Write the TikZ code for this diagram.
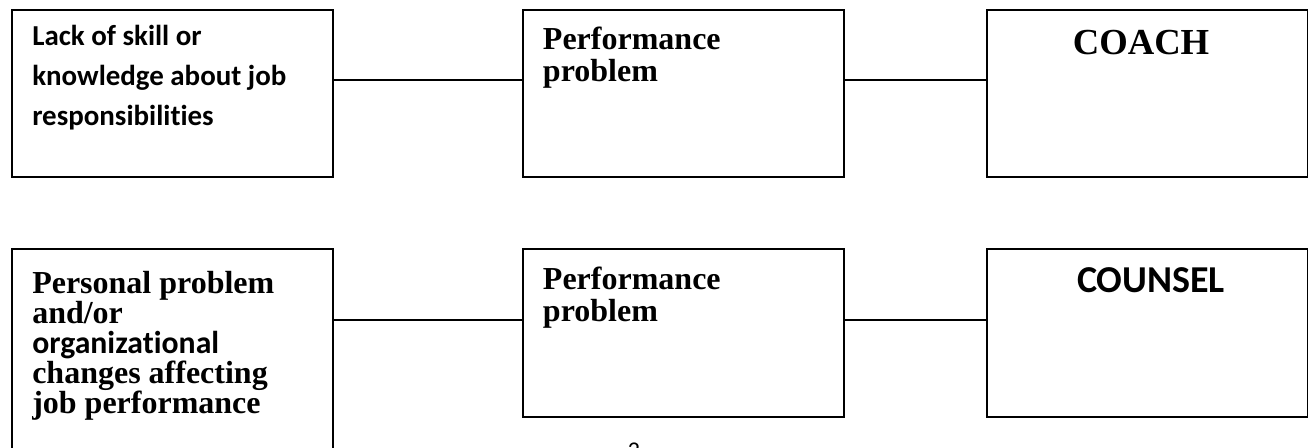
\documentclass[tikz,border=0pt]{standalone}
\usepackage{fontspec}
\setmainfont{Liberation Serif}
\newfontfamily\carl[Ligatures=NoCommon]{Carlito}
\begin{document}
\begin{tikzpicture}[x=0.75pt,y=-0.75pt,
  box/.style={draw, line width=1.5pt, anchor=north west, inner sep=0pt,
    minimum width=240.5pt},
  link/.style={line width=1.2pt},
  lbl/.style={anchor=base west, inner sep=0pt, align=left}]
\clip (0,0) rectangle (1308,448);
% boxes
\node[box, minimum height=125.25pt] (tl) at (11,9) {};
\node[box, minimum height=125.25pt] (tm) at (522,9) {};
\node[box, minimum height=125.25pt] (tr) at (986,9) {};
\node[box, minimum height=190pt] (bl) at (11,248) {};
\node[box, minimum height=126pt] (bm) at (522,248) {};
\node[box, minimum height=126pt] (br) at (986,248) {};
% connectors
\draw[link] ([yshift=-53.25pt]tl.north east) -- ([yshift=-53.25pt]tm.north west);
\draw[link] ([yshift=-53.25pt]tm.north east) -- ([yshift=-53.25pt]tr.north west);
\draw[link] ([yshift=-54pt]bl.north east) -- ([yshift=-54pt]bm.north west);
\draw[link] ([yshift=-54pt]bm.north east) -- ([yshift=-54pt]br.north west);
% texts (base anchor = baseline of last line)
\node[lbl, font=\carl\bfseries\fontsize{21.7}{30}\selectfont] (ttl) at (32,126)
  {Lack of skill or\\knowledge about job\\responsibilities};
\node[lbl, font=\bfseries\fontsize{24}{24.3}\selectfont] (ttm) at (542.7,81.7)
  {Performance\\problem};
\node[anchor=base, inner sep=0pt, font=\bfseries\fontsize{27.5}{30}\selectfont] (ttr) at (1141,55) {COACH};
\node[lbl, font=\bfseries\fontsize{24}{22.5}\selectfont] (tbl) at (32,413)
  {Personal problem\\and/or\\{\carl\fontsize{23.8}{22.5}\selectfont organizational}\\changes affecting\\job performance};
\node[lbl, font=\bfseries\fontsize{24}{24.3}\selectfont] (tbm) at (542.7,321.7)
  {Performance\\problem};
\node[anchor=base, inner sep=0pt, font=\carl\bfseries\fontsize{28.5}{30}\selectfont] (tbr) at (1151,293) {COUNSEL};
\node[anchor=base, inner sep=0pt, font=\carl\fontsize{18}{20}\selectfont] (pg) at (634,458) {2};
\end{tikzpicture}
\end{document}
